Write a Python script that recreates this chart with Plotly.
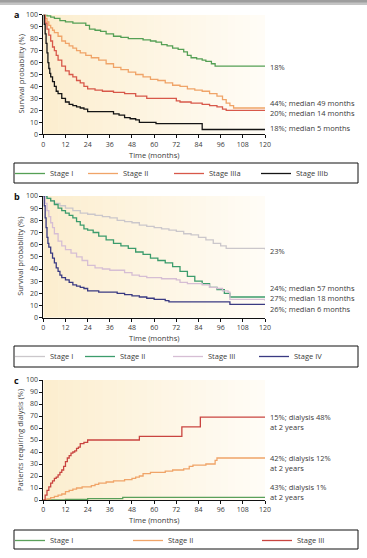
import plotly.graph_objects as go

# ---------------- Panel a: survival by stage ----------------
a_stage1_t = [0, 2, 4, 6, 9, 12, 16, 20, 23, 25, 28, 31, 34, 38, 42, 46, 50, 54, 58, 61, 64, 67, 70, 73, 76, 78, 80, 83, 86, 88, 91, 93, 120]
a_stage1_s = [100, 99, 98, 97, 95, 94, 93, 93, 91, 88, 87, 86, 84, 82, 81, 80, 80, 79, 78, 77, 75, 74, 72, 71, 69, 66, 64, 63, 62, 61, 59, 57, 57]
a_stage2_t = [0, 1, 2, 3, 4, 5, 6, 8, 10, 12, 14, 16, 18, 20, 23, 26, 30, 34, 38, 42, 46, 50, 54, 58, 62, 66, 70, 74, 78, 82, 86, 90, 94, 97, 99, 101, 103, 120]
a_stage2_s = [100, 97, 94, 91, 89, 87, 85, 82, 78, 76, 74, 72, 70, 68, 66, 64, 62, 59, 56, 54, 52, 50, 48, 46, 45, 43, 41, 40, 38, 37, 36, 34, 32, 29, 26, 24, 22, 22]
a_stage3a_t = [0, 1, 2, 3, 4, 5, 6, 7, 8, 10, 12, 14, 16, 18, 20, 22, 24, 28, 32, 38, 44, 50, 56, 62, 68, 72, 74, 80, 86, 90, 94, 97, 99, 120]
a_stage3a_s = [100, 93, 88, 83, 78, 73, 70, 66, 62, 57, 53, 50, 48, 45, 43, 40, 38, 37, 36, 35, 34, 32, 30, 30, 30, 28, 27, 26, 25, 24, 23, 21, 20, 20]
a_stage3b_t = [0, 0.5, 1, 1.5, 2, 2.5, 3, 3.5, 4, 5, 6, 7, 8, 10, 12, 14, 16, 18, 20, 22, 24, 36, 38, 41, 44, 47, 50, 52, 58, 61, 85, 86, 120]
a_stage3b_s = [100, 92, 84, 76, 68, 60, 55, 51, 48, 44, 40, 36, 34, 30, 27, 25, 24, 23, 22, 21, 19, 19, 17, 16, 14, 13, 12, 10, 10, 9, 9, 4, 4]
a_names = ["Stage I", "Stage II", "Stage IIIa", "Stage IIIb"]
a_labels = ["18%", "44%; median 49 months", "20%; median 14 months", "18%; median 5 months"]
a_label_y = [56.5, 26.3, 17.6, 5.3]

# ---------------- Panel b: survival by stage ----------------
b_stage1_t = [0, 2, 4, 6, 9, 12, 16, 20, 24, 28, 32, 36, 40, 44, 48, 52, 56, 60, 64, 68, 72, 76, 80, 84, 88, 92, 96, 99, 120]
b_stage1_s = [100, 98, 96, 94, 92, 90, 88, 86, 85, 84, 83, 82, 80, 79, 78, 76, 75, 74, 73, 72, 71, 69, 68, 66, 64, 61, 59, 57, 56]
b_stage2_t = [0, 2, 4, 6, 8, 10, 12, 14, 16, 18, 20, 22, 24, 27, 30, 34, 38, 42, 46, 50, 54, 58, 62, 66, 70, 74, 78, 82, 86, 90, 94, 98, 101, 120]
b_stage2_s = [100, 98, 96, 93, 90, 88, 86, 84, 82, 79, 76, 73, 72, 70, 67, 64, 61, 59, 57, 54, 52, 49, 47, 45, 42, 38, 34, 30, 28, 25, 23, 20, 17, 17]
b_stage3_t = [0, 1, 2, 3, 4, 5, 6, 8, 10, 12, 15, 18, 21, 24, 28, 32, 36, 40, 44, 48, 52, 56, 60, 64, 68, 72, 74, 78, 82, 86, 90, 94, 97, 100, 101, 120]
b_stage3_s = [100, 94, 88, 83, 78, 74, 69, 63, 59, 56, 53, 50, 47, 43, 41, 40, 39, 39, 37, 35, 34, 33, 33, 32, 32, 31, 29, 28, 28, 27, 25, 24, 22, 21, 15, 14]
b_stage4_t = [0, 0.5, 1, 1.5, 2, 2.5, 3, 4, 5, 6, 7, 8, 9, 10, 12, 14, 16, 18, 20, 22, 24, 30, 36, 40, 44, 48, 52, 56, 60, 66, 68, 100, 101, 120]
b_stage4_s = [100, 92, 82, 74, 66, 61, 58, 53, 49, 45, 41, 38, 35, 33, 31, 29, 27, 26, 25, 24, 22, 21, 21, 20, 19, 18, 17, 16, 15, 14, 13, 13, 11, 11]
b_names = ["Stage I", "Stage II", "Stage III", "Stage IV"]
b_labels = ["23%", "24%; median 57 months", "27%; median 18 months", "26%; median 6 months"]
b_label_y = [54.8, 24.6, 16.0, 7.4]

# ---------------- Panel c: patients requiring dialysis ----------------
c_stage1_t = [0, 12, 24, 43, 120]
c_stage1_s = [0, 0.6, 1.2, 2.2, 2.2]
c_stage2_t = [0, 2, 4, 6, 8, 10, 12, 14, 16, 18, 21, 24, 26, 28, 30, 34, 38, 42, 44, 46, 48, 50, 52, 54, 58, 62, 66, 70, 74, 76, 79, 81, 84, 88, 92, 93, 94, 120]
c_stage2_s = [0, 1, 2, 3, 4, 5, 7, 8, 9, 10, 11, 11, 12, 13, 14, 15, 16, 16, 17, 17, 18, 19, 20, 22, 23, 23, 24, 25, 25, 26, 28, 29, 29, 30, 30, 33, 35, 35]
c_stage3_t = [0, 1, 2, 3, 4, 5, 6, 7, 8, 9, 10, 11, 12, 13, 14, 15, 16, 17, 18, 19, 20, 22, 24, 52, 75, 85, 120]
c_stage3_s = [0, 4, 8, 11, 14, 16, 18, 19, 21, 23, 25, 28, 32, 35, 37, 39, 40, 41, 43, 44, 47, 48, 50, 53, 61, 69, 69]
c_names = ["Stage I", "Stage II", "Stage III"]
c_labels = ["15%; dialysis 48%<br>at 2 years", "42%; dialysis 12%<br>at 2 years", "43%; dialysis 1%<br>at 2 years"]
c_label_y = [65.0, 30.5, 7.0]

x_ticks = [0, 12, 24, 36, 48, 60, 72, 84, 96, 108, 120]
y_ticks = [0, 10, 20, 30, 40, 50, 60, 70, 80, 90, 100]

# ---------------- styling ----------------
W, H = 367, 558
FONT = "Open Sans"
TXT = "#3a3a3a"
a_colors = ["#55a055", "#f0a468", "#d8584a", "#151515"]
b_colors = ["#cbc7cb", "#3c9c6c", "#d6bed4", "#3a3a82"]
c_colors = ["#5aa05a", "#f0a468", "#c94440"]

XDOM = [43.3 / W, 265.0 / W]
def ydom(top_px, bot_px):
    return [1 - bot_px / H, 1 - top_px / H]

panels = [
    dict(ax="", leg="legend", dom=ydom(14.7, 134.3), ytitle="Survival probability (%)", letter="a",
         series=[(a_stage1_t, a_stage1_s), (a_stage2_t, a_stage2_s), (a_stage3a_t, a_stage3a_s), (a_stage3b_t, a_stage3b_s)],
         names=a_names, colors=a_colors, labels=a_labels, label_y=a_label_y, box=(163, 183), xtitle_px=155,
         widths=[28, 41, 42, 40]),
    dict(ax="2", leg="legend2", dom=ydom(196, 317.7), ytitle="Survival probability (%)", letter="b",
         series=[(b_stage1_t, b_stage1_s), (b_stage2_t, b_stage2_s), (b_stage3_t, b_stage3_s), (b_stage4_t, b_stage4_s)],
         names=b_names, colors=b_colors, labels=b_labels, label_y=b_label_y, box=(346, 367), xtitle_px=338,
         widths=[25, 43, 41, 40]),
    dict(ax="3", leg="legend3", dom=ydom(380, 500), ytitle="Patients requiring dialysis (%)", letter="c",
         series=[(c_stage1_t, c_stage1_s), (c_stage2_t, c_stage2_s), (c_stage3_t, c_stage3_s)],
         names=c_names, colors=c_colors, labels=c_labels, label_y=c_label_y, box=(530, 549), xtitle_px=520,
         widths=[73, 84, 40]),
]

fig = go.Figure()
shapes = []
annotations = []
layout = {}

# header bar
shapes.append(dict(type="rect", xref="paper", yref="paper", x0=0, x1=1, y0=1 - 5 / H, y1=1,
                   fillcolor="#c4c4c4", line=dict(width=0), layer="below"))
shapes.append(dict(type="rect", xref="paper", yref="paper", x0=0, x1=1, y0=1 - 2.5 / H, y1=1,
                   fillcolor="#9e9e9e", line=dict(width=0), layer="below"))

c_left = (252, 238, 207)
c_right = (255, 252, 246)
NSTRIP = 30

for p in panels:
    xr = "x" + p["ax"]
    yr = "y" + p["ax"]
    # background gradient
    for i in range(NSTRIP):
        f = i / (NSTRIP - 1)
        col = tuple(round(c_left[k] + (c_right[k] - c_left[k]) * f) for k in range(3))
        shapes.append(dict(type="rect", xref=xr, yref=yr, x0=120 * i / NSTRIP, x1=120 * (i + 1) / NSTRIP + 0.3,
                           y0=0, y1=100, fillcolor="rgb(%d,%d,%d)" % col, line=dict(width=0), layer="below"))
    # legend frame
    shapes.append(dict(type="rect", xref="paper", yref="paper", x0=14 / W, x1=358 / W,
                       y0=1 - p["box"][1] / H, y1=1 - p["box"][0] / H,
                       fillcolor="white", line=dict(color="#111", width=1), layer="below"))
    for (t, s), name, col, lw in zip(p["series"], p["names"], p["colors"], p["widths"]):
        fig.add_trace(go.Scatter(x=t, y=s, mode="lines", name=name, line=dict(color=col, width=1.3, shape="hv"),
                                 xaxis=xr, yaxis=yr, legend=p["leg"], legendwidth=lw,
                                 cliponaxis=False, hoverinfo="skip"))
    for lab, ly in zip(p["labels"], p["label_y"]):
        annotations.append(dict(text=lab, xref="paper", yref=yr, x=267.5 / W, y=ly, xanchor="left", yanchor="middle",
                                align="left", showarrow=False, font=dict(size=7.5, color=TXT, family=FONT)))
    annotations.append(dict(text="<b>%s</b>" % p["letter"], xref="paper", yref=yr, x=16.5 / W, y=100,
                            xanchor="center", yanchor="middle", showarrow=False,
                            font=dict(size=9, color="#111", family=FONT)))
    # axis titles
    annotations.append(dict(text=p["ytitle"], xref="paper", yref=yr, x=20 / W, y=50, textangle=-90,
                            xanchor="center", yanchor="middle", showarrow=False,
                            font=dict(size=7.5, color=TXT, family=FONT)))
    annotations.append(dict(text="Time (months)", xref=xr, yref="paper", x=60, y=1 - p["xtitle_px"] / H,
                            xanchor="center", yanchor="middle", showarrow=False,
                            font=dict(size=7.5, color=TXT, family=FONT)))
    layout["xaxis" + p["ax"]] = dict(domain=XDOM, anchor=yr, range=[0, 120], tickvals=x_ticks, automargin=False,
                                     showline=True, linecolor="#111", linewidth=1, ticks="outside", ticklen=3,
                                     tickcolor="#111", showgrid=False, zeroline=False,
                                     tickfont=dict(size=7, color=TXT, family=FONT))
    layout["yaxis" + p["ax"]] = dict(domain=p["dom"], anchor=xr, range=[0, 100], tickvals=y_ticks, automargin=False,
                                     showline=True, linecolor="#111", linewidth=1, ticks="outside", ticklen=3,
                                     tickcolor="#111", showgrid=False, zeroline=False,
                                     tickfont=dict(size=7, color=TXT, family=FONT))
    layout[p["leg"]] = dict(orientation="h", x=10 / W, y=1 - (p["box"][0] - 4) / H, xanchor="left", yanchor="top",
                            borderwidth=0, bgcolor="rgba(0,0,0,0)", itemwidth=30,
                            font=dict(size=7.5, color=TXT, family=FONT), tracegroupgap=0)

fig.update_layout(width=W, height=H, margin=dict(l=0, r=0, t=0, b=0, autoexpand=False), paper_bgcolor="white",
                  plot_bgcolor="rgba(0,0,0,0)", showlegend=True, shapes=shapes, annotations=annotations,
                  font=dict(family=FONT, size=8, color=TXT), **layout)

fig.write_html("out.html", config={"displayModeBar": False, "staticPlot": True},
               post_script="document.body.style.margin='0px';document.body.style.overflow='hidden';")
